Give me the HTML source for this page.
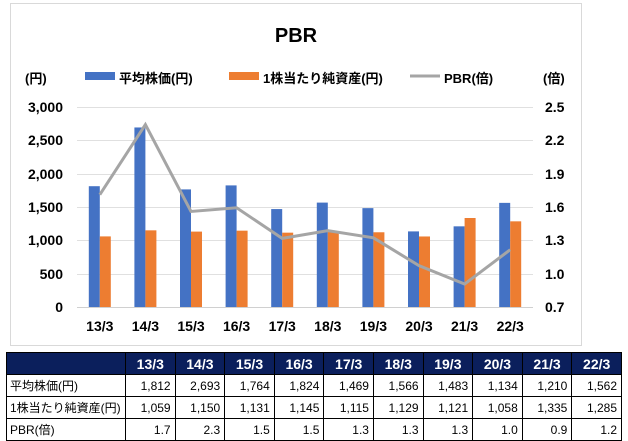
<!DOCTYPE html>
<html><head><meta charset="utf-8"><style>
body{margin:0;width:628px;height:441px;background:#fff;font-family:"Liberation Sans","Noto Sans CJK JP",sans-serif;overflow:hidden}
svg text{font-family:"Liberation Sans","Noto Sans CJK JP",sans-serif}
table{position:absolute;left:6px;top:352px;border-collapse:collapse;font-size:12px;table-layout:fixed;width:616px}
td{border:1px solid #000;height:21px;padding:0 4px;text-align:right;overflow:hidden;white-space:nowrap}
td:first-child{text-align:left;width:112px;padding:0 3px}
tr.h td{background:#0b1f5c;color:#fff;font-weight:bold;font-size:14px;text-align:center}
</style></head><body>
<svg width="628" height="352" style="position:absolute;left:0;top:0">
<rect x="10.5" y="3.5" width="571" height="342" fill="#fff" stroke="#d9d9d9"/>
<text x="296" y="42" font-size="20" font-weight="bold" text-anchor="middle">PBR</text>
<text x="25" y="83" font-size="13" font-weight="bold">(円)</text>
<text x="543" y="83" font-size="13" font-weight="bold">(倍)</text>
<rect x="85" y="72" width="30" height="8" fill="#4472c4"/>
<text x="119" y="83" font-size="13" font-weight="bold">平均株価(円)</text>
<rect x="229" y="72" width="30" height="8" fill="#ed7d31"/>
<text x="263" y="83" font-size="13" font-weight="bold">1株当たり純資産(円)</text>
<line x1="410" y1="76" x2="440" y2="76" stroke="#a5a5a5" stroke-width="3"/>
<text x="444" y="83" font-size="13" font-weight="bold">PBR(倍)</text>
<g stroke="#e0e0e0" stroke-width="1">
<line x1="77" y1="107.5" x2="533" y2="107.5"/><line x1="77" y1="140.5" x2="533" y2="140.5"/>
<line x1="77" y1="174.5" x2="533" y2="174.5"/><line x1="77" y1="207.5" x2="533" y2="207.5"/>
<line x1="77" y1="240.5" x2="533" y2="240.5"/><line x1="77" y1="274.5" x2="533" y2="274.5"/>
<line x1="77" y1="307.5" x2="533" y2="307.5" stroke="#d0d0d0"/>
</g>
<g font-size="14" font-weight="bold" text-anchor="end">
<text x="63" y="112">3,000</text><text x="63" y="145">2,500</text><text x="63" y="179">2,000</text>
<text x="63" y="212">1,500</text><text x="63" y="245">1,000</text><text x="63" y="279">500</text><text x="63" y="312">0</text>
</g>
<g font-size="14" font-weight="bold">
<text x="545" y="112">2.5</text><text x="545" y="145">2.2</text><text x="545" y="179">1.9</text>
<text x="545" y="212">1.6</text><text x="545" y="245">1.3</text><text x="545" y="279">1.0</text><text x="545" y="312">0.7</text>
</g>
<g id="bars"></g>
<g font-size="14" font-weight="bold" text-anchor="middle" id="xl"></g>
<polyline id="pl" fill="none" stroke="#a5a5a5" stroke-width="3"/>
</svg>
<table>
<tr class="h"><td></td><td>13/3</td><td>14/3</td><td>15/3</td><td>16/3</td><td>17/3</td><td>18/3</td><td>19/3</td><td>20/3</td><td>21/3</td><td>22/3</td></tr>
<tr><td>平均株価(円)</td><td>1,812</td><td>2,693</td><td>1,764</td><td>1,824</td><td>1,469</td><td>1,566</td><td>1,483</td><td>1,134</td><td>1,210</td><td>1,562</td></tr>
<tr><td>1株当たり純資産(円)</td><td>1,059</td><td>1,150</td><td>1,131</td><td>1,145</td><td>1,115</td><td>1,129</td><td>1,121</td><td>1,058</td><td>1,335</td><td>1,285</td></tr>
<tr><td>PBR(倍)</td><td>1.7</td><td>2.3</td><td>1.5</td><td>1.5</td><td>1.3</td><td>1.3</td><td>1.3</td><td>1.0</td><td>0.9</td><td>1.2</td></tr>
</table>
<script>
var a=[1812,2693,1764,1824,1469,1566,1483,1134,1210,1562],b=[1059,1150,1131,1145,1115,1129,1121,1058,1335,1285],l=["13/3","14/3","15/3","16/3","17/3","18/3","19/3","20/3","21/3","22/3"];
var ns="http://www.w3.org/2000/svg",g=document.getElementById("bars"),x=document.getElementById("xl"),pts=[];
function r(xx,v,col){var e=document.createElementNS(ns,"rect");var h=v/15;e.setAttribute("x",xx);e.setAttribute("y",307-h);e.setAttribute("width",11);e.setAttribute("height",h);e.setAttribute("fill",col);g.appendChild(e);}
for(var i=0;i<10;i++){var c=77+45.6*(i+0.5);
r(c-11,a[i],"#4472c4");r(c,b[i],"#ed7d31");
var t=document.createElementNS(ns,"text");t.setAttribute("x",c);t.setAttribute("y",331);t.textContent=l[i];x.appendChild(t);
var p=a[i]/b[i];pts.push(c+","+(307-(p-0.7)/1.8*200));}
document.getElementById("pl").setAttribute("points",pts.join(" "));
</script>
</body></html>
